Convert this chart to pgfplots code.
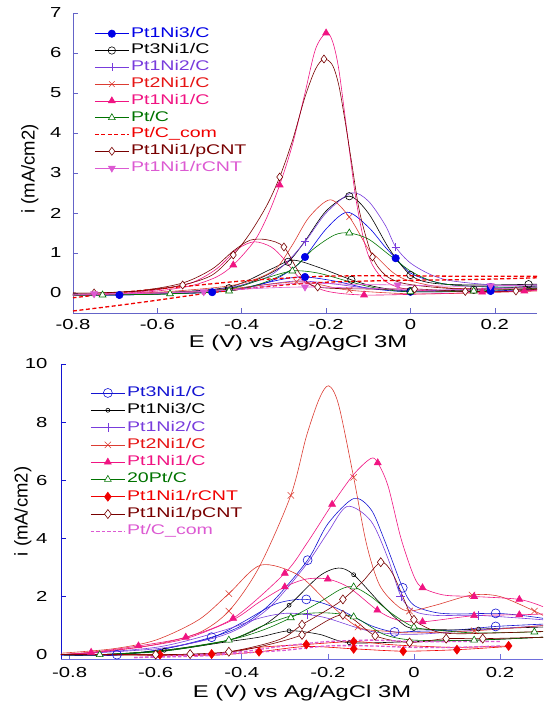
\documentclass[border=0pt]{standalone}
\usepackage{fontspec}
\setmainfont[FakeStretch=1.4]{Liberation Sans}
\newfontfamily\ylabfont{Liberation Sans}
\usepackage{pgfplots}
\pgfplotsset{compat=1.18}
\definecolor{cBlue}{RGB}{0,0,230}
\definecolor{cBlueB}{RGB}{20,20,210}
\definecolor{cPurple}{RGB}{120,60,220}
\definecolor{cRedL}{RGB}{220,60,50}
\definecolor{cRedT}{RGB}{230,20,20}
\definecolor{cRed}{RGB}{240,0,0}
\definecolor{cMag}{RGB}{240,20,130}
\definecolor{cGreen}{RGB}{0,115,0}
\definecolor{cMaroon}{RGB}{120,0,0}
\definecolor{cOrchid}{RGB}{220,90,210}
\definecolor{cAxT}{RGB}{100,100,200}
\definecolor{cAxB}{RGB}{20,20,210}
\definecolor{cAxB2}{RGB}{110,110,220}
\newcommand\tickf{\fontsize{14.5}{16}\selectfont}
\newcommand\legf{\fontsize{14}{16}\selectfont}
\newcommand\labf{\fontsize{17}{20}\selectfont}
\pgfplotsset{
 common/.style={scale only axis, axis x line*=bottom, axis y line*=left, axis line style={-},
  tick align=inside, major tick length=5pt,
  xtick={-0.8,-0.6,-0.4,-0.2,0,0.2},
  /pgf/number format/assume math mode=true, /pgf/number format/fixed,
  xticklabel style={font=\tickf}, yticklabel style={font=\tickf},
  xlabel={E (V) vs Ag/AgCl 3M}, ylabel={i (mA/cm2)},
  xlabel style={font=\labf, anchor=center},
  ylabel style={font={\ylabfont\fontsize{18.5}{20}\selectfont}, anchor=center},
  legend cell align=left,
  legend image code/.code={\draw[mark repeat=2,mark phase=2,##1] plot coordinates {(0pt,0pt) (17pt,0pt) (34pt,0pt)};},
 },
 tA/.style={cBlue, line width=0.6pt, mark=*, mark size=3.7pt, mark options={solid, fill=cBlue}},
 tB/.style={black, line width=0.6pt, mark=o, mark size=3.7pt, mark options={solid}},
 tC/.style={cPurple, line width=0.6pt, mark=+, mark size=4pt, mark options={solid}},
 tD/.style={cRedL, line width=0.6pt, mark=x, mark size=4pt, mark options={solid}},
 tE/.style={cMag, line width=0.6pt, mark=triangle*, mark size=4pt, mark options={solid, fill=cMag}},
 tF/.style={cGreen, line width=0.6pt, mark=triangle*, mark size=4pt, mark options={solid, fill=white}},
 tG/.style={cRed, line width=1.3pt, dash pattern=on 4pt off 2.5pt},
 tH/.style={cMaroon, line width=0.6pt, mark=diamond*, mark size=4pt, mark options={solid, fill=white}},
 tI/.style={cOrchid, line width=0.6pt, mark=triangle*, mark size=4pt, mark options={solid, fill=cOrchid, rotate=180}},
 bA/.style={cBlueB, line width=0.6pt, mark=o, mark size=4.5pt, mark options={solid}},
 bB/.style={black, line width=0.6pt, mark=o, mark size=2pt, mark options={solid}},
 bC/.style={cPurple, line width=0.6pt, mark=+, mark size=4.5pt, mark options={solid}},
 bD/.style={cRedL, line width=0.6pt, mark=x, mark size=4.5pt, mark options={solid}},
 bE/.style={cMag, line width=0.6pt, mark=triangle*, mark size=4pt, mark options={solid, fill=cMag}},
 bF/.style={cGreen, line width=0.6pt, mark=triangle*, mark size=4pt, mark options={solid, fill=white}},
 bG/.style={cRed, line width=0.6pt, mark=diamond*, mark size=4.5pt, mark options={solid, fill=cRed}},
 bH/.style={cMaroon, line width=0.6pt, mark=diamond*, mark size=4.5pt, mark options={solid, fill=white}},
 bI/.style={cOrchid, line width=1.3pt, dash pattern=on 3.5pt off 2pt},
}
\begin{document}
\begin{tikzpicture}
\useasboundingbox (0pt,0pt) rectangle (547pt,704pt);
% ================= TOP PANEL =================
\begin{axis}[common, at={(73pt,391pt)}, anchor=south west, width=464pt, height=300pt,
  xmin=-0.8, xmax=0.3, ymin=-0.5, ymax=7, ytick={0,1,...,7},
  x axis line style={cAxT, line width=0.6pt}, y axis line style={cAxT, line width=0.6pt},
  xtick style={cAxT, line width=0.6pt}, ytick style={cAxT, line width=0.6pt},
  xticklabel style={yshift=-3pt}, yticklabel style={xshift=-8pt},
  xlabel style={at={(axis description cs:0.485,-0.1)}},
  ylabel style={at={(axis description cs:-0.093,0.48)}},
  legend style={draw=none, fill=none, at={(0,1)}, anchor=north west, xshift=21pt, yshift=-13pt,
    inner sep=0pt, row sep=1.8pt, nodes={inner xsep=1.5pt, inner ysep=0pt, text height=11pt, text depth=4pt, font=\legf}},
]
% Pt1Ni3/C
\addplot[tA, mark=none, smooth, forget plot] coordinates {(-0.8,-0.05) (-0.69,-0.05) (-0.58,-0.02) (-0.47,0.02) (-0.4,0.1) (-0.33,0.3) (-0.28,0.6) (-0.25,0.9) (-0.2,1.6) (-0.15,2.02) (-0.1,1.65) (-0.06,1.15) (-0.035,0.87) (0,0.5) (0.05,0.3) (0.1,0.2) (0.19,0.15) (0.3,0.15)};
\addplot[tA, mark=none, smooth, forget plot] coordinates {(0.3,0.1) (0.19,0.05) (0,0.03) (-0.1,0.12) (-0.18,0.3) (-0.25,0.4) (-0.3,0.35) (-0.4,0.12) (-0.47,0.02) (-0.58,-0.02) (-0.69,-0.05) (-0.8,-0.05)};
\addplot[tA, only marks, forget plot] coordinates {(-0.69,-0.05) (-0.47,0.02) (-0.25,0.9) (-0.035,0.87) (0.19,0.15) (-0.25,0.4) (0,0.03) (0.19,0.05)};
\addlegendimage{tA}\addlegendentry{\textcolor{cBlue}{Pt1Ni3/C}}
% Pt3Ni1/C
\addplot[tB, mark=none, smooth, forget plot] coordinates {(-0.8,-0.03) (-0.6,0.0) (-0.43,0.12) (-0.35,0.4) (-0.29,0.78) (-0.25,1.3) (-0.2,2.05) (-0.145,2.42) (-0.1,2.0) (-0.05,1.1) (0,0.45) (0.05,0.25) (0.15,0.2) (0.3,0.22)};
\addplot[tB, mark=none, smooth, forget plot] coordinates {(0.3,0.18) (0.15,0.08) (0,0.05) (-0.08,0.15) (-0.14,0.33) (-0.22,0.65) (-0.28,0.82) (-0.33,0.6) (-0.43,0.15) (-0.6,0.0) (-0.8,-0.05)};
\addplot[tB, only marks, forget plot] coordinates {(-0.43,0.12) (-0.29,0.78) (-0.145,2.42) (0,0.45) (0.28,0.22) (-0.14,0.33) (0,0.05) (0.15,0.08)};
\addlegendimage{tB}\addlegendentry{\textcolor{black}{Pt3Ni1/C}}
% Pt1Ni2/C
\addplot[tC, mark=none, smooth, forget plot] coordinates {(-0.8,-0.05) (-0.6,0.0) (-0.45,0.1) (-0.35,0.35) (-0.3,0.7) (-0.25,1.28) (-0.2,2.0) (-0.14,2.5) (-0.1,2.3) (-0.06,1.7) (-0.035,1.15) (0,0.75) (0.05,0.45) (0.1,0.3) (0.2,0.2) (0.3,0.2)};
\addplot[tC, mark=none, smooth, forget plot] coordinates {(0.3,0.15) (0.1,0.08) (0,0.05) (-0.1,0.12) (-0.2,0.25) (-0.27,0.3) (-0.35,0.2) (-0.45,0.05) (-0.6,-0.02) (-0.8,-0.05)};
\addplot[tC, only marks, forget plot] coordinates {(-0.25,1.28) (-0.035,1.15)};
\addlegendimage{tC}\addlegendentry{\textcolor{cPurple}{Pt1Ni2/C}}
% Pt2Ni1/C
\addplot[tD, mark=none, smooth, forget plot] coordinates {(-0.8,-0.05) (-0.6,0.02) (-0.45,0.15) (-0.38,0.3) (-0.32,0.6) (-0.28,1.2) (-0.24,1.9) (-0.19,2.33) (-0.145,1.9) (-0.1,1.1) (-0.08,0.9) (-0.04,0.5) (0,0.3) (0.1,0.12) (0.3,0.1)};
\addplot[tD, mark=none, smooth, forget plot] coordinates {(0.3,0.05) (0.15,0.0) (0,-0.02) (-0.145,0.07) (-0.22,0.22) (-0.27,0.28) (-0.35,0.2) (-0.45,0.08) (-0.6,0.0) (-0.8,-0.05)};
\addplot[tD, only marks, forget plot] coordinates {(-0.145,1.9) (-0.145,0.07) (-0.27,0.28)};
\addlegendimage{tD}\addlegendentry{\textcolor{cRedT}{Pt2Ni1/C}}
% Pt1Ni1/C
\addplot[tE, mark=none, smooth, forget plot] coordinates {(-0.8,-0.05) (-0.7,-0.03) (-0.6,0.05) (-0.52,0.18) (-0.46,0.4) (-0.42,0.7) (-0.37,1.3) (-0.34,1.9) (-0.31,2.7) (-0.28,3.7) (-0.25,5.0) (-0.225,6.1) (-0.2,6.5) (-0.185,6.3) (-0.17,5.6) (-0.15,4.0) (-0.13,2.4) (-0.11,1.3) (-0.09,0.7) (-0.06,0.3) (-0.02,0.12) (0.05,0.05) (0.17,0.03) (0.3,0.06)};
\addplot[tE, mark=none, smooth, forget plot] coordinates {(0.3,0.08) (0.27,0.05) (0.17,0.02) (0.05,-0.02) (-0.11,-0.05) (-0.2,0.05) (-0.26,0.35) (-0.3,0.85) (-0.33,1.15) (-0.37,1.28) (-0.41,1.1) (-0.46,0.6) (-0.52,0.25) (-0.6,0.08) (-0.7,-0.02) (-0.8,-0.05)};
\addplot[tE, only marks, forget plot] coordinates {(-0.42,0.7) (-0.31,2.7) (-0.2,6.5) (-0.11,-0.05) (0.17,0.02) (0.27,0.05)};
\addlegendimage{tE}\addlegendentry{\textcolor{cMag}{Pt1Ni1/C}}
% Pt/C
\addplot[tF, mark=none, smooth, forget plot] coordinates {(-0.8,-0.05) (-0.73,-0.05) (-0.57,-0.02) (-0.43,0.05) (-0.35,0.25) (-0.28,0.6) (-0.23,1.1) (-0.18,1.45) (-0.145,1.5) (-0.1,1.35) (-0.05,0.95) (0,0.55) (0.05,0.3) (0.1,0.2) (0.2,0.15) (0.3,0.15)};
\addplot[tF, mark=none, smooth, forget plot] coordinates {(0.3,0.12) (0.15,0.05) (0,0.03) (-0.08,0.12) (-0.15,0.3) (-0.22,0.5) (-0.28,0.55) (-0.35,0.35) (-0.43,0.1) (-0.57,-0.02) (-0.73,-0.05) (-0.8,-0.05)};
\addplot[tF, only marks, forget plot] coordinates {(-0.73,-0.05) (-0.57,-0.02) (-0.43,0.05) (-0.145,1.5) (-0.28,0.55) (0,0.03) (0.15,0.05)};
\addlegendimage{tF}\addlegendentry{\textcolor{cGreen}{Pt/C}}
% Pt/C_com
\addplot[tG, smooth, forget plot] coordinates {(-0.8,-0.45) (-0.7,-0.32) (-0.6,-0.18) (-0.5,-0.03) (-0.4,0.1) (-0.3,0.2) (-0.2,0.27) (-0.1,0.3) (0,0.32) (0.1,0.33) (0.2,0.35) (0.3,0.38)};
\addplot[tG, smooth, forget plot] coordinates {(0.3,0.42) (0.2,0.42) (0.1,0.42) (0,0.43) (-0.1,0.43) (-0.2,0.42) (-0.3,0.37) (-0.4,0.3) (-0.5,0.2) (-0.6,0.1) (-0.7,0.0) (-0.8,-0.12)};
\addlegendimage{tG}\addlegendentry{\textcolor{cRed}{Pt/C\_com}}
% Pt1Ni1/pCNT
\addplot[tH, mark=none, smooth, forget plot] coordinates {(-0.8,0.0) (-0.75,0.0) (-0.64,0.05) (-0.54,0.2) (-0.47,0.45) (-0.42,0.95) (-0.38,1.5) (-0.34,2.2) (-0.31,2.9) (-0.28,3.8) (-0.25,4.9) (-0.225,5.6) (-0.205,5.85) (-0.185,5.7) (-0.17,5.2) (-0.155,4.3) (-0.14,3.3) (-0.12,2.0) (-0.09,0.9) (-0.06,0.45) (-0.02,0.25) (0.05,0.15) (0.13,0.1) (0.3,0.1)};
\addplot[tH, mark=none, smooth, forget plot] coordinates {(0.3,0.1) (0.25,0.05) (0.13,0.04) (0.01,0.1) (-0.1,0.1) (-0.22,0.15) (-0.26,0.45) (-0.3,1.15) (-0.34,1.33) (-0.38,1.32) (-0.42,1.05) (-0.47,0.6) (-0.54,0.25) (-0.64,0.06) (-0.75,0.0) (-0.8,0.0)};
\addplot[tH, only marks, forget plot] coordinates {(-0.75,0.0) (-0.54,0.2) (-0.42,0.95) (-0.31,2.9) (-0.205,5.85) (-0.09,0.9) (-0.3,1.15) (-0.22,0.15) (0.01,0.1) (0.13,0.04) (0.25,0.05)};
\addlegendimage{tH}\addlegendentry{\textcolor{cMaroon}{Pt1Ni1/pCNT}}
% Pt1Ni1/rCNT
\addplot[tI, mark=none, smooth, forget plot] coordinates {(-0.8,-0.05) (-0.75,-0.02) (-0.6,0.0) (-0.49,0.03) (-0.4,0.1) (-0.3,0.22) (-0.25,0.25) (-0.15,0.22) (-0.03,0.2) (0.1,0.17) (0.19,0.18) (0.3,0.2)};
\addplot[tI, mark=none, smooth, forget plot] coordinates {(0.3,0.15) (0.19,0.1) (0.1,0.08) (0,0.08) (-0.1,0.12) (-0.25,0.15) (-0.35,0.12) (-0.45,0.06) (-0.6,0.0) (-0.8,-0.05)};
\addplot[tI, only marks, forget plot] coordinates {(-0.75,-0.02) (-0.49,0.03) (-0.03,0.2) (0.19,0.18) (-0.25,0.15)};
\addlegendimage{tI}\addlegendentry{\textcolor{cOrchid}{Pt1Ni1/rCNT}}
\end{axis}
% ================= BOTTOM PANEL =================
\begin{axis}[common, at={(61pt,45pt)}, anchor=south west, width=482pt, height=295pt,
  xmin=-0.82, xmax=0.3, ymin=-0.15, ymax=10, ytick={0,2,...,10},
  x axis line style={cAxB2, line width=0.7pt}, y axis line style={cAxB, line width=0.7pt},
  xtick style={cAxB2, line width=0.6pt}, ytick style={cAxB, line width=0.6pt},
  xticklabel style={yshift=-5pt}, yticklabel style={xshift=-10pt},
  xlabel style={at={(axis description cs:0.5,-0.115)}},
  ylabel style={at={(axis description cs:-0.079,0.5)}},
  legend style={draw=none, fill=none, at={(0,1)}, anchor=north west, xshift=29pt, yshift=-21pt,
    inner sep=0pt, row sep=1.8pt, nodes={inner xsep=1.5pt, inner ysep=0pt, text height=11.3pt, text depth=4.2pt, font=\legf}},
]
% Pt3Ni1/C
\addplot[bA, mark=none, smooth, forget plot] coordinates {(-0.82,0.0) (-0.69,0.0) (-0.58,0.2) (-0.47,0.6) (-0.4,1.0) (-0.33,1.8) (-0.247,3.25) (-0.2,4.5) (-0.14,5.37) (-0.1,5.0) (-0.07,4.0) (-0.026,2.3) (0,1.7) (0.05,1.45) (0.1,1.4) (0.19,1.42) (0.25,1.35) (0.3,1.25)};
\addplot[bA, mark=none, smooth, forget plot] coordinates {(0.3,1.05) (0.19,0.97) (0.1,0.85) (0,0.8) (-0.045,0.78) (-0.1,1.0) (-0.18,1.6) (-0.25,1.9) (-0.32,1.75) (-0.4,1.1) (-0.47,0.58) (-0.58,0.2) (-0.69,-0.02) (-0.82,-0.02)};
\addplot[bA, only marks, forget plot] coordinates {(-0.69,0.0) (-0.47,0.6) (-0.247,3.25) (-0.026,2.3) (0.19,1.42) (-0.045,0.78) (-0.25,1.9) (0.19,0.97)};
\addlegendimage{bA}\addlegendentry{\textcolor{cBlueB}{Pt3Ni1/C}}
% Pt1Ni3/C
\addplot[bB, mark=none, smooth, forget plot] coordinates {(-0.82,0.0) (-0.73,0.0) (-0.58,0.15) (-0.43,0.5) (-0.35,1.0) (-0.29,1.7) (-0.22,2.7) (-0.175,2.98) (-0.14,2.75) (-0.08,1.8) (-0.03,1.1) (0,0.9) (0.1,0.85) (0.15,0.88) (0.3,0.95)};
\addplot[bB, mark=none, smooth, forget plot] coordinates {(0.3,0.6) (0.15,0.5) (0,0.45) (-0.15,0.41) (-0.22,0.7) (-0.29,0.82) (-0.36,0.6) (-0.43,0.45) (-0.58,0.13) (-0.73,0.0) (-0.82,0.0)};
\addplot[bB, only marks, forget plot] coordinates {(-0.73,0.0) (-0.58,0.15) (-0.43,0.5) (-0.29,1.7) (-0.14,2.75) (0,0.9) (0.15,0.88) (-0.15,0.41) (-0.29,0.82)};
\addlegendimage{bB}\addlegendentry{\textcolor{black}{Pt1Ni3/C}}
% Pt1Ni2/C
\addplot[bC, mark=none, smooth, forget plot] coordinates {(-0.82,0.0) (-0.6,0.2) (-0.47,0.55) (-0.4,0.95) (-0.33,1.7) (-0.25,3.1) (-0.2,4.2) (-0.155,5.1) (-0.1,4.6) (-0.06,3.3) (-0.03,2.0) (0,1.5) (0.05,1.35) (0.15,1.35) (0.3,1.2)};
\addplot[bC, mark=none, smooth, forget plot] coordinates {(0.3,1.0) (0.15,0.85) (0,0.7) (-0.1,0.8) (-0.2,1.25) (-0.247,1.38) (-0.3,1.42) (-0.36,1.25) (-0.45,0.8) (-0.6,0.25) (-0.82,0.0)};
\addplot[bC, only marks, forget plot] coordinates {(-0.03,2.0) (-0.247,1.38) (0.15,1.35)};
\addlegendimage{bC}\addlegendentry{\textcolor{cPurple}{Pt1Ni2/C}}
% Pt2Ni1/C
\addplot[bD, mark=none, smooth, forget plot] coordinates {(-0.82,0.0) (-0.7,0.15) (-0.6,0.35) (-0.5,0.75) (-0.43,1.5) (-0.36,3.0) (-0.286,5.48) (-0.25,7.5) (-0.22,8.8) (-0.198,9.25) (-0.175,8.6) (-0.14,6.1) (-0.11,3.8) (-0.08,2.4) (-0.04,1.7) (-0.01,1.5) (0.05,1.7) (0.135,2.05) (0.2,2.0) (0.28,1.5) (0.3,1.35)};
\addplot[bD, mark=none, smooth, forget plot] coordinates {(0.3,1.0) (0.14,0.82) (0,0.75) (-0.06,0.8) (-0.13,0.95) (-0.2,1.8) (-0.27,2.75) (-0.356,3.08) (-0.43,2.1) (-0.5,1.2) (-0.6,0.5) (-0.7,0.2) (-0.82,0.05)};
\addplot[bD, only marks, forget plot] coordinates {(-0.43,1.5) (-0.286,5.48) (-0.14,6.1) (-0.01,1.5) (0.135,2.05) (0.28,1.5) (0.14,0.82) (-0.13,0.95) (-0.43,2.1)};
\addlegendimage{bD}\addlegendentry{\textcolor{cRedT}{Pt2Ni1/C}}
% Pt1Ni1/C
\addplot[bE, mark=none, smooth, forget plot] coordinates {(-0.82,0.0) (-0.75,0.08) (-0.64,0.3) (-0.53,0.6) (-0.42,1.25) (-0.3,2.8) (-0.25,3.8) (-0.19,5.17) (-0.14,6.2) (-0.1,6.75) (-0.084,6.6) (-0.06,5.8) (-0.03,4.0) (0,2.7) (0.02,2.3) (0.07,2.05) (0.14,2.0) (0.245,1.9) (0.3,1.65)};
\addplot[bE, mark=none, smooth, forget plot] coordinates {(0.3,1.4) (0.245,1.37) (0.14,1.34) (0.02,1.13) (-0.04,1.2) (-0.085,1.53) (-0.15,2.3) (-0.2,2.6) (-0.25,2.6) (-0.3,2.33) (-0.36,1.8) (-0.42,1.2) (-0.53,0.55) (-0.64,0.25) (-0.75,0.06) (-0.82,0.0)};
\addplot[bE, only marks, forget plot] coordinates {(-0.75,0.08) (-0.64,0.3) (-0.53,0.6) (-0.42,1.25) (-0.3,2.8) (-0.19,5.17) (-0.084,6.6) (0.02,2.3) (0.14,2.0) (0.245,1.9) (0.245,1.37) (0.14,1.34) (0.02,1.13) (-0.085,1.53) (-0.2,2.6) (-0.3,2.33)};
\addlegendimage{bE}\addlegendentry{\textcolor{cMag}{Pt1Ni1/C}}
% 20Pt/C
\addplot[bF, mark=none, smooth, forget plot] coordinates {(-0.82,0.0) (-0.73,0.0) (-0.58,0.15) (-0.43,0.5) (-0.35,0.85) (-0.286,1.27) (-0.22,1.8) (-0.17,2.25) (-0.14,2.33) (-0.1,2.0) (-0.05,1.4) (0,0.95) (0.05,0.85) (0.14,0.75) (0.28,0.78) (0.3,0.8)};
\addplot[bF, mark=none, smooth, forget plot] coordinates {(0.3,0.6) (0.14,0.5) (0,0.5) (-0.07,0.7) (-0.14,1.3) (-0.21,1.44) (-0.28,1.35) (-0.35,1.0) (-0.43,0.5) (-0.58,0.12) (-0.73,0.0) (-0.82,0.0)};
\addplot[bF, only marks, forget plot] coordinates {(-0.73,0.0) (-0.43,0.5) (-0.286,1.27) (-0.14,2.33) (0,0.95) (0.28,0.78) (-0.14,1.3) (0.14,0.5)};
\addlegendimage{bF}\addlegendentry{\textcolor{cGreen}{20Pt/C}}
% Pt1Ni1/rCNT
\addplot[bG, mark=none, smooth, forget plot] coordinates {(-0.82,0.0) (-0.7,0.0) (-0.59,0.0) (-0.47,0.02) (-0.36,0.25) (-0.25,0.35) (-0.14,0.45) (-0.06,0.35) (0,0.3) (0.1,0.25) (0.22,0.3)};
\addplot[bG, mark=none, smooth, forget plot] coordinates {(0.22,0.28) (0.1,0.17) (-0.025,0.12) (-0.14,0.2) (-0.25,0.28) (-0.36,0.1) (-0.47,-0.02) (-0.59,-0.02) (-0.7,0.0) (-0.82,0.0)};
\addplot[bG, only marks, forget plot] coordinates {(-0.59,0.0) (-0.47,0.02) (-0.25,0.35) (-0.14,0.45) (0.22,0.3) (0.1,0.17) (-0.025,0.12) (-0.14,0.2) (-0.36,0.1)};
\addlegendimage{bG}\addlegendentry{\textcolor{cRed}{Pt1Ni1/rCNT}}
% Pt1Ni1/pCNT
\addplot[bH, mark=none, smooth, forget plot] coordinates {(-0.82,0.0) (-0.6,0.0) (-0.52,0.02) (-0.43,0.1) (-0.35,0.35) (-0.3,0.6) (-0.26,1.03) (-0.2,1.55) (-0.165,1.9) (-0.12,2.5) (-0.077,3.18) (-0.05,2.8) (-0.02,1.8) (0,1.2) (0.05,0.8) (0.1,0.72) (0.2,0.75) (0.3,0.8)};
\addplot[bH, mark=none, smooth, forget plot] coordinates {(0.3,0.6) (0.16,0.55) (0.075,0.55) (-0.01,0.42) (-0.09,0.65) (-0.165,1.37) (-0.26,0.68) (-0.35,0.3) (-0.43,0.08) (-0.52,0.0) (-0.6,-0.02) (-0.82,0.0)};
\addplot[bH, only marks, forget plot] coordinates {(-0.6,0.0) (-0.52,0.02) (-0.43,0.1) (-0.26,1.03) (-0.165,1.9) (-0.077,3.18) (0,1.2) (0.16,0.55) (0.075,0.55) (-0.01,0.42) (-0.09,0.65) (-0.165,1.37) (-0.26,0.68)};
\addlegendimage{bH}\addlegendentry{\textcolor{cMaroon}{Pt1Ni1/pCNT}}
% Pt/C_com
\addplot[bI, smooth, forget plot] coordinates {(-0.65,-0.1) (-0.5,0.0) (-0.4,0.1) (-0.3,0.3) (-0.2,0.45) (-0.1,0.5) (0,0.45) (0.1,0.45) (0.2,0.45)};
\addplot[bI, smooth, forget plot] coordinates {(0.2,0.3) (0.1,0.25) (0,0.25) (-0.1,0.3) (-0.2,0.3) (-0.3,0.15) (-0.4,0.05) (-0.5,-0.05) (-0.65,-0.1)};
\addlegendimage{bI}\addlegendentry{\textcolor{cOrchid}{Pt/C\_com}}
\end{axis}
\end{tikzpicture}
\end{document}
